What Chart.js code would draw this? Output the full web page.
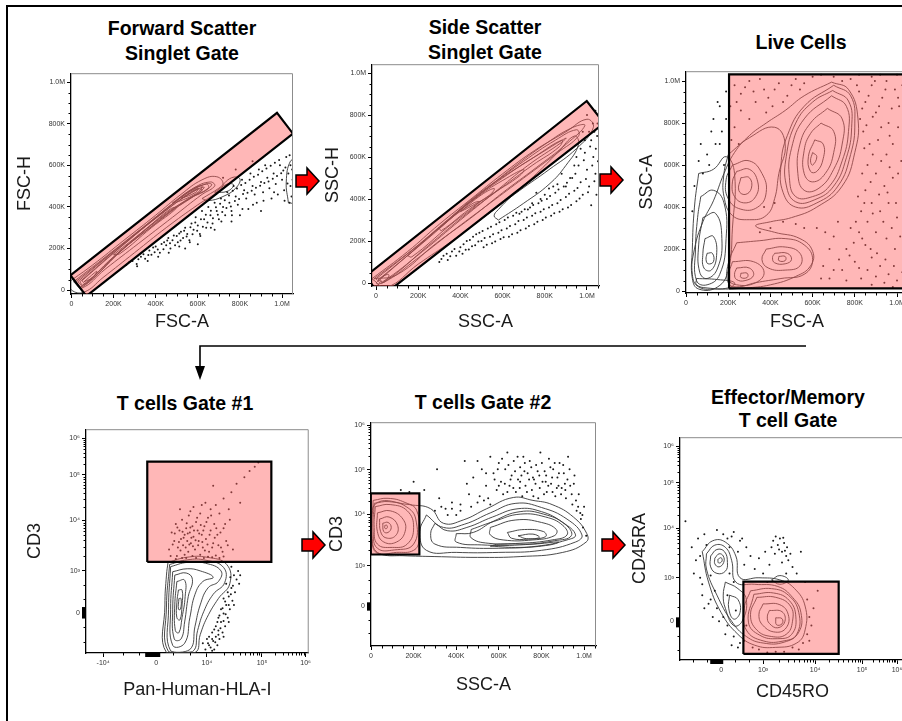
<!DOCTYPE html>
<html>
<head>
<meta charset="utf-8">
<script src="https://cdn.jsdelivr.net/npm/chart.js@4.4.1/dist/chart.umd.min.js"></script>
<style>
html, body { margin: 0; width: 902px; height: 721px; overflow: hidden; background: #fff; }
body { position: relative; font-family: Arial, "Liberation Sans", sans-serif; }
canvas { position: absolute; }
.title { position: absolute; font-weight: bold; font-size: 19.5px; line-height: 25px; text-align: center;
    transform: translateX(-50%); white-space: nowrap; color: #000; }
svg { position: absolute; left: 0; top: 0; }
</style>
</head>
<body>
<div class="title" style="left:182px;top:15.5px">Forward Scatter<br>Singlet Gate</div>
<div class="title" style="left:485px;top:14.5px">Side Scatter<br>Singlet Gate</div>
<div class="title" style="left:801px;top:29.5px">Live Cells</div>
<div class="title" style="left:185px;top:390.5px">T cells Gate #1</div>
<div class="title" style="left:483px;top:389.5px">T cells Gate #2</div>
<div class="title" style="left:788px;top:385.5px;line-height:23px">Effector/Memory<br>T cell Gate</div>

<canvas id="fsc"></canvas>
<canvas id="ssc"></canvas>
<canvas id="live"></canvas>
<canvas id="tc1"></canvas>
<canvas id="tc2"></canvas>
<canvas id="em"></canvas>

<svg width="902" height="721">
    <path d="M7 721 V6 H902" fill="none" stroke="#000" stroke-width="2" />
    <path d="M806 346 H200 V368" fill="none" stroke="#000" stroke-width="1.6" />
    <path d="M195 366 L205 366 L200 380 Z" fill="#000" />
    <g fill="#f00" stroke="#000" stroke-width="1.5">
        <path d="M296 175 h11 v-7 l12 13 l-12 13 v-7 h-11 Z" />
        <path d="M600 174 h11 v-7 l12 13 l-12 13 v-7 h-11 Z" />
        <path d="M302 539 h11 v-7 l12 13 l-12 13 v-7 h-11 Z" />
        <path d="M602 539 h11 v-7 l12 13 l-12 13 v-7 h-11 Z" />
    </g>
</svg>

<script>
// tick labels
const LIN_TICKS = [0, 200, 400, 600, 800, 1000]
const LIN_LABELS = ['0', '200K', '400K', '600K', '800K', '1.0M']
const DEC_LABELS = ['0', '10³', '10⁴', '10⁵', '10⁶']
const NEG_DEC_LABELS = ['-10⁴', '0', '10⁴', '10⁵', '10⁶']

// biexponential axes: positions of the labelled ticks (display units)
const t1XTicks = [-1.02, 0, 0.98, 2.04, 2.88]
const t1YTicks = [0, 1, 2.19, 3.26, 4.12]
const t2YTicks = [0, 0.98, 2.21, 3.29, 4.36]
const emXTicks = [0, 1, 2.24, 3.36, 4.19]
const emYTicks = [0, 1, 2.14, 3.18, 4.02]

// ---- Forward scatter singlet gate (FSC-A vs FSC-H, K) ----
const fscGate = [[-5, 71], [976, 852], [1052, 752], [71, -29], [-5, 71]]
const fscRings = [
    [[-10, 40], [100, 120], [250, 240], [400, 360], [520, 460], [620, 530], [690, 545], [720, 510], [690, 470], [600, 410], [450, 300], [300, 180], [150, 60], [60, -10], [0, 0], [-10, 40]],
    [[10, 40], [150, 150], [300, 270], [450, 390], [580, 490], [660, 520], [680, 500], [620, 460], [480, 350], [320, 225], [160, 100], [50, 10], [10, 40]],
    [[20, 40], [180, 170], [340, 300], [500, 430], [610, 500], [665, 510], [640, 480], [540, 430], [380, 305], [200, 160], [45, 15], [20, 40]],
    [[30, 40], [200, 185], [380, 330], [540, 460], [640, 510], [650, 490], [560, 440], [400, 320], [220, 175], [60, 20], [30, 40]],
    [[40, 40], [230, 205], [420, 360], [570, 470], [630, 495], [600, 465], [450, 370], [240, 195], [55, 25], [40, 40]],
    [[50, 45], [250, 220], [450, 385], [600, 485], [620, 480], [580, 450], [430, 350], [260, 210], [70, 30], [50, 45]],
    [[200, 170], [350, 290], [470, 390], [500, 395], [380, 300], [230, 175], [200, 170]],
    [[60, 40], [120, 90], [100, 60], [60, 40]],
    [[480, 420], [580, 490], [620, 500], [600, 470], [520, 430], [480, 420]],
    [[520, 440], [600, 490], [590, 470], [520, 440]],
    [[620, 440], [700, 490], [760, 540], [800, 535], [780, 490], [720, 450], [650, 430], [620, 440]],
    [[680, 470], [740, 510], [770, 505], [740, 475], [680, 470]],
    [[1030, 420], [1020, 520], [1040, 620], [1070, 620], [1070, 420], [1030, 420]],
]
const fscDots = [
    [260, 120], [290, 140], [310, 125], [330, 160], [350, 150], [370, 190], [380, 170], [400, 210], [410, 195], [420, 180],
    [440, 230], [450, 215], [460, 250], [470, 200], [480, 240], [500, 260], [505, 230], [520, 280], [530, 250], [540, 300],
    [550, 270], [560, 240], [570, 320], [580, 290], [590, 350], [600, 310], [610, 270], [620, 380], [630, 340], [640, 300],
    [650, 400], [660, 360], [670, 320], [680, 420], [690, 380], [700, 340], [710, 440], [720, 400], [730, 360], [740, 470],
    [750, 420], [760, 380], [770, 500], [780, 450], [790, 410], [800, 360], [810, 530], [820, 480], [830, 440], [840, 390],
    [850, 560], [860, 500], [870, 460], [880, 420], [890, 580], [900, 520], [910, 470], [920, 600], [930, 540], [940, 490],
    [950, 440], [960, 560], [970, 510], [980, 460], [990, 600], [1000, 530], [1010, 480], [1020, 640], [1030, 560], [1040, 500],
    [1045, 450], [1040, 600], [1050, 530], [1035, 420], [860, 620], [780, 580], [720, 540], [900, 380], [760, 330], [680, 290],
    [600, 220], [540, 200], [275, 135], [318, 148], [342, 172], [365, 168], [388, 205], [395, 182], [428, 222], [437, 196],
    [455, 238], [468, 225], [486, 262], [492, 215], [512, 272], [518, 238], [535, 285], [547, 258], [565, 302], [575, 268],
    [588, 325], [597, 285], [615, 340], [624, 305], [638, 362], [646, 325], [662, 382], [672, 345], [686, 398], [695, 362],
    [706, 415], [716, 375], [728, 432], [736, 395], [748, 455], [757, 402], [766, 478], [776, 428], [786, 488], [796, 438],
    [806, 505], [815, 462], [826, 515], [836, 468], [846, 530], [856, 478], [866, 545], [876, 492], [886, 555], [896, 502],
    [906, 572], [916, 515], [926, 585], [936, 522], [946, 598], [956, 535], [966, 612], [976, 548], [986, 625], [996, 562],
    [1006, 575], [1016, 590], [1026, 512], [1036, 648], [1048, 580], [1012, 430], [962, 470], [912, 430], [862, 410], [812, 390],
    [762, 360], [712, 330], [662, 300], [612, 260], [562, 230], [512, 210], [462, 180], [412, 160], [362, 140], [312, 115],
]

// ---- Side scatter singlet gate (SSC-A vs SSC-H, K) ----
const sscGate = [[-49, 33], [999, 867], [1081, 761], [24, -66], [-49, 33]]
const sscRings = [
    [[-20, 20], [150, 150], [300, 280], [450, 400], [600, 520], [750, 630], [900, 720], [1000, 780], [1030, 740], [950, 640], [820, 540], [680, 440], [520, 320], [360, 200], [200, 90], [50, -20], [-20, 20]],
    [[-10, 20], [180, 165], [350, 310], [500, 430], [650, 550], [800, 660], [930, 740], [990, 750], [900, 660], [760, 550], [600, 430], [450, 310], [280, 185], [100, 40], [-10, 20]],
    [[0, 20], [200, 180], [400, 350], [550, 470], [700, 580], [850, 680], [950, 730], [960, 700], [860, 620], [700, 500], [540, 380], [380, 260], [200, 120], [30, 0], [0, 20]],
    [[10, 15], [250, 215], [450, 390], [600, 500], [750, 600], [880, 680], [870, 650], [740, 560], [590, 450], [430, 330], [250, 180], [40, 5], [10, 15]],
    [[20, 18], [280, 245], [480, 420], [640, 530], [800, 630], [900, 690], [880, 670], [720, 560], [560, 430], [400, 300], [220, 150], [30, 5], [20, 18]],
    [[300, 260], [480, 410], [620, 500], [700, 540], [680, 510], [560, 430], [440, 350], [310, 250], [300, 260]],
    [[150, 130], [320, 280], [460, 380], [490, 385], [350, 275], [170, 125], [150, 130]],
    [[400, 340], [500, 420], [560, 450], [540, 420], [440, 360], [400, 340]],
    [[0, 0], [30, 30], [60, 40], [50, 15], [10, -5], [0, 0]],
    [[580, 300], [700, 380], [820, 470], [900, 560], [960, 660], [940, 700], [860, 620], [760, 520], [660, 430], [580, 350], [560, 320], [580, 300]],
]
const sscDots = [
    [300, 100], [320, 130], [340, 110], [360, 150], [380, 130], [400, 170], [410, 140], [430, 200], [440, 160], [460, 220],
    [470, 180], [490, 240], [500, 200], [510, 170], [530, 260], [540, 220], [550, 190], [570, 280], [580, 240], [590, 210],
    [610, 300], [620, 260], [630, 220], [650, 320], [660, 280], [670, 240], [690, 340], [700, 300], [710, 260], [730, 360],
    [740, 320], [750, 280], [770, 380], [780, 340], [790, 300], [810, 400], [820, 360], [830, 320], [850, 430], [860, 380],
    [870, 340], [890, 460], [900, 410], [910, 360], [930, 500], [940, 440], [950, 390], [960, 560], [970, 480], [980, 420],
    [990, 620], [1000, 540], [1010, 460], [1020, 680], [1030, 600], [1040, 520], [1045, 420], [1050, 760], [1035, 720], [1020, 370],
    [880, 520], [820, 450], [760, 430], [980, 720], [1000, 800], [1040, 820], [950, 600], [310, 115], [335, 140], [352, 128],
    [372, 162], [395, 150], [415, 185], [425, 158], [445, 205], [455, 175], [475, 232], [485, 198], [505, 248], [515, 215],
    [525, 182], [545, 268], [555, 232], [565, 198], [585, 290], [595, 252], [605, 218], [625, 312], [635, 272], [645, 232],
    [665, 335], [675, 295], [685, 252], [705, 352], [715, 312], [725, 272], [745, 372], [755, 332], [765, 292], [785, 392],
    [795, 352], [805, 312], [825, 415], [835, 372], [845, 332], [865, 445], [875, 395], [885, 352], [905, 478], [915, 425],
    [925, 372], [945, 520], [955, 452], [965, 402], [985, 585], [995, 495], [1005, 432], [1015, 650], [1025, 560], [1035, 485],
    [1048, 700], [1042, 640], [1052, 580], [1028, 760], [1010, 720], [990, 680], [970, 640], [940, 560], [920, 500], [900, 460],
    [860, 470], [840, 460], [800, 420], [780, 400], [740, 380], [720, 350], [680, 330],
]

// ---- Live cells (FSC-A vs SSC-A, K) ----
const liveGate = [[204, 13], [204, 1032], [1150, 1032], [1150, 13], [204, 13]]
const liveRings = [
    [[690, 995], [770, 960], [815, 820], [800, 660], [740, 500], [620, 400], [500, 350], [400, 330], [330, 310], [420, 280], [540, 250], [600, 190], [590, 120], [520, 70], [400, 30], [280, 15], [150, 10], [60, 20], [30, 80], [40, 200], [80, 330], [130, 430], [180, 560], [230, 660], [300, 740], [380, 800], [470, 860], [560, 930], [690, 995]],
    [[700, 980], [780, 930], [800, 800], [780, 650], [720, 500], [620, 420], [520, 400], [460, 470], [450, 600], [480, 740], [560, 880], [700, 980]],
    [[695, 955], [770, 905], [785, 780], [760, 635], [700, 500], [610, 435], [520, 425], [475, 505], [475, 640], [520, 800], [600, 900], [695, 955]],
    [[690, 930], [760, 880], [770, 760], [740, 620], [680, 500], [600, 450], [520, 450], [490, 540], [500, 680], [560, 820], [690, 930]],
    [[670, 870], [740, 820], [740, 700], [700, 580], [630, 490], [560, 480], [530, 560], [540, 700], [590, 800], [670, 870]],
    [[640, 800], [700, 760], [700, 660], [660, 560], [600, 520], [560, 560], [560, 670], [590, 750], [640, 800]],
    [[610, 720], [650, 700], [650, 630], [620, 570], [590, 570], [580, 640], [610, 720]],
    [[600, 660], [620, 640], [600, 600], [590, 620], [600, 660]],
    [[220, 600], [300, 620], [360, 560], [380, 470], [340, 400], [260, 390], [200, 440], [190, 530], [220, 600]],
    [[240, 570], [300, 580], [340, 520], [330, 450], [280, 420], [230, 450], [220, 520], [240, 570]],
    [[260, 540], [300, 540], [310, 490], [280, 460], [250, 480], [260, 540]],
    [[200, 650], [300, 730], [420, 780], [470, 700], [440, 560], [420, 440], [380, 360], [300, 340], [220, 360], [180, 450], [180, 560], [200, 650]],
    [[240, 230], [350, 240], [470, 250], [560, 220], [600, 150], [560, 80], [450, 60], [330, 40], [240, 20], [200, 40], [200, 130], [240, 230]],
    [[380, 200], [470, 210], [540, 180], [540, 120], [470, 100], [390, 110], [360, 150], [380, 200]],
    [[420, 180], [480, 180], [500, 150], [470, 130], [420, 135], [410, 160], [420, 180]],
    [[440, 165], [470, 165], [470, 145], [440, 145], [440, 165]],
    [[220, 140], [320, 140], [370, 90], [330, 40], [240, 30], [200, 60], [220, 140]],
    [[240, 110], [300, 110], [320, 75], [280, 50], [240, 55], [230, 80], [240, 110]],
    [[260, 85], [290, 85], [290, 65], [260, 65], [260, 85]],
    [[60, 560], [130, 580], [190, 640], [230, 560], [220, 300], [200, 100], [150, 20], [60, 10], [30, 60], [30, 200], [40, 400], [60, 560]],
    [[70, 450], [130, 480], [180, 420], [190, 250], [160, 80], [100, 30], [50, 50], [45, 200], [55, 350], [70, 450]],
    [[80, 350], [140, 370], [170, 250], [150, 110], [100, 60], [65, 90], [60, 220], [80, 350]],
    [[90, 250], [130, 260], [145, 170], [120, 100], [85, 110], [80, 180], [90, 250]],
    [[50, 60], [150, 55], [230, 40], [200, 15], [100, 15], [50, 30], [50, 60]],
    [[100, 180], [125, 180], [130, 140], [105, 130], [95, 150], [100, 180]],
]
const liveDots = [
    [820, 950], [850, 900], [880, 980], [900, 850], [930, 920], [960, 800], [990, 960], [1010, 880], [1030, 780], [840, 760],
    [870, 700], [910, 720], [950, 650], [980, 700], [1020, 620], [860, 600], [900, 560], [940, 500], [980, 540], [1030, 470],
    [850, 480], [880, 420], [920, 380], [960, 420], [1000, 350], [1040, 300], [830, 380], [860, 330], [900, 280], [950, 250],
    [990, 200], [1030, 150], [820, 280], [850, 220], [880, 160], [920, 120], [960, 80], [1000, 50], [780, 300], [720, 330],
    [700, 260], [680, 200], [650, 120], [640, 60], [760, 200], [800, 140], [740, 100], [830, 60], [880, 30],
    [230, 980], [260, 940], [300, 1000], [330, 900], [370, 960], [410, 880], [440, 990], [480, 930], [520, 1010], [540, 960],
    [600, 1020], [260, 860], [230, 780], [300, 820], [380, 850], [780, 1010], [880, 1020], [950, 1000], [1040, 1010],
    [100, 650], [140, 700], [170, 760], [190, 820], [60, 620], [120, 760], [160, 700], [180, 600], [40, 500], [30, 380],
    [150, 900], [190, 950], [370, 400], [420, 420], [460, 330], [520, 320], [560, 300], [620, 300], [350, 280], [400, 300], [660, 280],
    [810, 980], [835, 870], [865, 930], [895, 1000], [915, 880], [945, 960], [975, 870], [1005, 920], [1025, 980], [1045, 860],
    [825, 820], [855, 790], [885, 830], [925, 780], [965, 740], [1005, 780], [1045, 720], [845, 680], [885, 650], [925, 620],
    [965, 590], [1005, 560], [1045, 540], [835, 560], [875, 520], [915, 460], [955, 470], [995, 420], [1035, 400], [815, 450],
    [845, 420], [885, 370], [935, 330], [975, 300], [1015, 260], [1045, 220], [805, 330], [835, 250], [875, 200], [905, 180],
    [945, 150], [985, 120], [1025, 90], [1045, 40], [795, 230], [775, 170], [725, 150], [700, 100], [680, 60], [760, 50],
    [820, 110], [860, 100], [900, 70], [940, 40], [980, 20], [240, 900], [280, 970], [320, 950], [350, 1010], [390, 920],
    [420, 960], [460, 900], [500, 980], [560, 990], [640, 1030], [700, 1020], [740, 1000], [820, 1030], [920, 1030], [1000, 1030],
    [210, 880], [215, 720], [250, 700], [70, 700], [110, 600], [130, 820], [160, 880], [80, 560],
]

// ---- T cells gate #1 (Pan-Human-HLA-I vs CD3, biex units) ----
const t1Gate = [[-0.17, 1.21], [-0.17, 3.57], [2.22, 3.57], [2.22, 1.21], [-0.17, 1.21]]
const t1Rings = [
    [[0.23, 1.2], [0.59, 1.32], [0.98, 1.32], [1.36, 1.15], [1.42, 0.7], [1.2, 0.35], [0.98, -0.1], [0.85, -0.5], [0.75, -0.92], [0.2, -0.92], [0.17, 0.2], [0.2, 0.9], [0.23, 1.2]],
    [[0.26, 1.15], [0.6, 1.26], [0.96, 1.25], [1.3, 1.08], [1.32, 0.72], [1.1, 0.45], [0.92, 0.05], [0.8, -0.4], [0.7, -0.9], [0.24, -0.9], [0.2, 0.15], [0.26, 1.15]],
    [[0.28, 1.1], [0.6, 1.2], [0.95, 1.18], [1.25, 1.0], [1.2, 0.75], [1.0, 0.6], [0.85, 0.2], [0.75, -0.3], [0.65, -0.85], [0.28, -0.88], [0.24, 0.1], [0.28, 1.1]],
    [[0.32, 0.98], [0.6, 1.05], [0.85, 1.0], [1.1, 0.85], [0.9, 0.75], [0.75, 0.45], [0.65, -0.1], [0.55, -0.7], [0.32, -0.75], [0.28, 0.1], [0.32, 0.98]],
    [[0.36, 0.9], [0.58, 0.95], [0.7, 0.8], [0.62, 0.4], [0.55, -0.2], [0.48, -0.6], [0.35, -0.6], [0.32, 0.1], [0.36, 0.9]],
    [[0.4, 0.75], [0.55, 0.78], [0.56, 0.4], [0.5, -0.1], [0.44, -0.45], [0.37, -0.4], [0.36, 0.2], [0.4, 0.75]],
    [[0.43, 0.55], [0.5, 0.55], [0.5, 0.2], [0.46, -0.15], [0.4, -0.1], [0.4, 0.25], [0.43, 0.55]],
    [[0.44, 0.35], [0.48, 0.35], [0.47, 0.1], [0.43, 0.1], [0.44, 0.35]],
]
const t1Dots = [
    [0.25, 1.5], [0.3, 1.9], [0.35, 1.7], [0.38, 2.1], [0.42, 1.55], [0.45, 1.95], [0.48, 1.75], [0.5, 2.2], [0.52, 1.6], [0.55, 1.85],
    [0.58, 2.0], [0.6, 1.7], [0.62, 1.45], [0.63, 2.3], [0.65, 1.9], [0.67, 1.65], [0.7, 2.05], [0.72, 1.8], [0.75, 1.5], [0.77, 2.15],
    [0.8, 1.95], [0.82, 1.7], [0.85, 2.35], [0.88, 1.85], [0.9, 1.55], [0.93, 2.05], [0.96, 1.75], [1.0, 2.25], [1.02, 1.45], [1.05, 1.95],
    [1.1, 1.65], [1.12, 2.1], [1.18, 1.85], [1.22, 2.35], [1.25, 1.55], [1.3, 2.0], [1.35, 1.7], [1.42, 2.2], [1.48, 1.5], [0.28, 1.35],
    [0.4, 1.35], [0.55, 1.38], [0.7, 1.35], [0.85, 1.38], [1.0, 1.33], [1.15, 1.36], [1.3, 1.34], [0.46, 2.45], [0.72, 2.5], [0.95, 2.6],
    [1.15, 2.55], [1.3, 2.7], [1.45, 2.85], [1.55, 3.05], [1.62, 2.6], [1.7, 3.2], [1.8, 3.35], [1.9, 3.45], [1.97, 3.55], [1.1, 3.0],
    [1.4, 2.45], [1.45, 1.1], [1.5, 0.9], [1.55, 0.8], [1.45, 0.6], [1.52, 0.5], [1.4, 0.4], [1.47, 0.3], [1.35, 0.2], [1.42, 0.1],
    [1.3, 0.0], [1.38, -0.1], [1.25, -0.2], [1.33, -0.3], [1.2, -0.4], [1.28, -0.45], [1.15, -0.55], [1.22, -0.6], [1.1, -0.65], [1.18, -0.75],
    [1.05, -0.8], [1.12, -0.85], [1.0, -0.7], [0.95, -0.85], [1.6, 0.7], [1.58, 1.0], [1.3, 0.35], [1.25, 0.1], [1.2, -0.1], [1.15, -0.3],
    [1.08, -0.45], [1.02, -0.55], [0.9, -0.7], [1.62, 0.9], [1.35, 0.7], [1.5, 0.2], [1.4, -0.2], [1.3, -0.55],
    [0.32, 1.62], [0.36, 1.88], [0.41, 2.02], [0.44, 1.68], [0.47, 1.48], [0.51, 1.92], [0.53, 1.78], [0.57, 1.55], [0.59, 2.12], [0.61, 1.88],
    [0.64, 1.62], [0.66, 2.02], [0.68, 1.78], [0.71, 1.58], [0.73, 1.95], [0.76, 1.72], [0.79, 2.25], [0.81, 1.6], [0.83, 1.88], [0.86, 2.08],
    [0.89, 1.68], [0.91, 1.95], [0.94, 1.48], [0.97, 2.15], [0.99, 1.62], [1.03, 1.85], [1.06, 2.3], [1.08, 1.55], [1.13, 1.78], [1.16, 2.0],
    [1.2, 1.6], [1.24, 1.9], [1.28, 1.45], [1.33, 2.1], [1.38, 1.6], [0.58, 1.3], [0.77, 1.3], [0.92, 1.3], [1.08, 1.32], [1.22, 1.3],
    [0.38, 1.28], [0.5, 1.3], [0.66, 2.4], [0.88, 2.55], [1.05, 2.45], [1.43, 0.85], [1.48, 0.65], [1.38, 0.5], [1.44, 0.45], [1.33, 0.28],
    [1.4, 0.2], [1.28, 0.12], [1.34, -0.02], [1.22, -0.05], [1.3, -0.18], [1.18, -0.2], [1.24, -0.35], [1.12, -0.38], [1.2, -0.5], [1.08, -0.6],
    [1.14, -0.68], [1.02, -0.75], [1.08, -0.88], [0.98, -0.6],
]

// ---- T cells gate #2 (SSC-A K vs CD3 biex units) ----
const t2Gate = [[-1, 1.25], [-1, 2.72], [227, 2.72], [227, 1.25], [-1, 1.25]]
const t2Rings = [
    [[10, 2.55], [80, 2.6], [160, 2.5], [215, 2.3], [225, 1.6], [200, 1.35], [120, 1.3], [30, 1.3], [5, 1.7], [10, 2.55]],
    [[15, 2.48], [85, 2.52], [165, 2.4], [210, 2.1], [200, 1.5], [110, 1.36], [30, 1.4], [10, 1.8], [15, 2.48]],
    [[20, 2.4], [90, 2.45], [170, 2.3], [200, 1.9], [170, 1.5], [100, 1.42], [30, 1.5], [15, 1.9], [20, 2.4]],
    [[30, 2.25], [90, 2.3], [150, 2.1], [160, 1.8], [120, 1.55], [60, 1.55], [30, 1.8], [30, 2.25]],
    [[40, 2.1], [85, 2.15], [125, 1.95], [115, 1.7], [70, 1.65], [45, 1.8], [40, 2.1]],
    [[55, 2.0], [80, 2.02], [95, 1.9], [80, 1.78], [60, 1.8], [55, 2.0]],
    [[65, 1.95], [75, 1.95], [75, 1.88], [65, 1.88], [65, 1.95]],
    [[180, 2.45], [280, 2.35], [340, 2.0], [433, 2.08], [543, 2.35], [668, 2.62], [760, 2.55], [850, 2.45], [950, 2.15], [1013, 1.75], [1010, 1.55], [900, 1.3], [700, 1.2], [500, 1.18], [300, 1.2], [150, 1.22], [50, 1.25], [10, 1.4], [0, 2.0], [30, 2.5], [180, 2.45]],
    [[260, 2.2], [340, 1.9], [440, 1.98], [560, 2.25], [680, 2.48], [800, 2.38], [920, 2.1], [990, 1.72], [960, 1.55], [800, 1.35], [600, 1.3], [400, 1.3], [260, 1.35], [230, 1.8], [260, 2.2]],
    [[300, 2.0], [360, 1.82], [450, 1.9], [570, 2.15], [690, 2.35], [800, 2.28], [900, 2.02], [960, 1.72], [920, 1.6], [780, 1.45], [600, 1.4], [420, 1.42], [300, 1.5], [280, 1.75], [300, 2.0]],
    [[400, 1.75], [480, 1.78], [575, 2.05], [700, 2.28], [810, 2.22], [910, 1.98], [940, 1.7], [860, 1.58], [700, 1.48], [520, 1.48], [400, 1.55], [400, 1.75]],
    [[470, 1.85], [580, 2.05], [700, 2.22], [820, 2.15], [900, 1.95], [920, 1.72], [850, 1.6], [700, 1.52], [550, 1.52], [470, 1.65], [470, 1.85]],
    [[560, 1.9], [680, 2.08], [800, 2.02], [870, 1.85], [860, 1.7], [760, 1.6], [620, 1.6], [560, 1.72], [560, 1.9]],
    [[640, 1.78], [720, 1.85], [810, 1.8], [820, 1.68], [740, 1.62], [660, 1.64], [640, 1.78]],
    [[690, 1.7], [760, 1.74], [790, 1.66], [730, 1.63], [690, 1.7]],
    [[560, 1.45], [700, 1.42], [840, 1.48], [880, 1.55], [760, 1.5], [600, 1.5], [560, 1.45]],
]
const t2Dots = [
    [140, 2.8], [200, 3.0], [300, 2.3], [310, 3.3], [330, 2.4], [360, 2.2], [380, 2.5], [400, 2.2], [420, 2.45], [440, 3.5],
    [460, 2.7], [480, 3.1], [500, 2.5], [520, 3.3], [540, 2.9], [550, 2.6], [560, 3.6], [575, 3.2], [590, 2.8], [600, 3.45],
    [610, 3.0], [620, 2.7], [630, 3.3], [640, 3.7], [650, 2.9], [660, 3.15], [670, 3.5], [680, 2.75], [690, 3.05], [700, 3.35],
    [710, 2.65], [715, 3.6], [725, 2.9], [735, 3.2], [745, 3.5], [755, 2.8], [765, 3.05], [775, 3.4], [785, 2.6], [795, 3.7],
    [805, 3.0], [815, 3.25], [825, 2.75], [835, 3.55], [845, 2.95], [855, 3.3], [865, 2.65], [875, 3.1], [885, 3.45], [895, 2.85],
    [905, 3.2], [915, 2.6], [925, 3.6], [935, 2.9], [945, 2.45], [955, 3.15], [965, 2.3], [975, 2.7], [985, 2.1], [995, 1.9],
    [1000, 2.4], [1010, 1.7], [600, 2.9], [700, 3.0], [760, 3.1], [820, 3.0], [880, 2.9], [640, 2.75], [720, 3.25], [790, 3.15],
    [850, 3.1], [910, 2.95], [350, 2.35], [420, 2.3], [530, 2.55], [180, 2.75], [250, 2.8],
    [580, 3.05], [595, 3.3], [615, 3.55], [628, 2.95], [645, 3.4], [655, 3.05], [668, 2.85], [676, 3.25], [688, 3.6], [698, 2.85],
    [706, 3.15], [722, 3.45], [732, 2.75], [742, 3.05], [752, 3.35], [762, 2.65], [772, 2.95], [782, 3.25], [792, 2.85], [802, 3.45],
    [812, 2.7], [822, 3.15], [832, 2.9], [842, 3.35], [852, 2.75], [862, 3.45], [872, 2.85], [882, 3.2], [892, 2.7], [902, 3.4],
    [912, 2.8], [922, 3.05], [932, 3.3], [942, 2.7], [952, 2.95], [962, 2.55], [972, 2.4], [982, 2.25], [992, 2.2], [470, 2.4],
    [510, 2.65], [560, 2.45], [380, 2.35], [320, 2.6], [450, 2.95], [500, 3.5], [540, 3.2],
]

// ---- Effector/Memory T cell gate (CD45RO vs CD45RA, biex units) ----
const emGate = [[0.53, -0.75], [0.53, 0.91], [2.8, 0.91], [2.8, -0.75], [0.53, -0.75]]
const emRings = [
    [[-0.45, 1.6], [-0.2, 1.85], [0.1, 1.82], [0.35, 1.5], [0.45, 1.0], [0.9, 1.0], [1.4, 0.95], [1.75, 0.75], [2.0, 0.35], [2.0, -0.2], [1.8, -0.5], [1.3, -0.6], [0.8, -0.55], [0.4, -0.3], [0.0, 0.2], [-0.3, 0.9], [-0.45, 1.6]],
    [[-0.35, 1.55], [-0.15, 1.75], [0.1, 1.7], [0.25, 1.4], [0.35, 0.9], [0.8, 0.85], [1.35, 0.8], [1.7, 0.55], [1.9, 0.2], [1.85, -0.25], [1.5, -0.48], [1.0, -0.5], [0.6, -0.35], [0.25, 0.0], [-0.1, 0.6], [-0.35, 1.2], [-0.35, 1.55]],
    [[-0.25, 1.5], [-0.1, 1.65], [0.08, 1.6], [0.15, 1.35], [0.1, 1.15], [-0.1, 1.1], [-0.25, 1.25], [-0.25, 1.5]],
    [[-0.15, 1.45], [-0.05, 1.55], [0.05, 1.5], [0.06, 1.35], [-0.05, 1.25], [-0.15, 1.32], [-0.15, 1.45]],
    [[-0.08, 1.42], [0.0, 1.46], [0.02, 1.38], [-0.06, 1.34], [-0.08, 1.42]],
    [[0.1, 0.9], [0.4, 0.75], [0.6, 0.5], [0.5, 0.0], [0.3, -0.1], [0.1, 0.3], [0.05, 0.6], [0.1, 0.9]],
    [[0.2, 0.6], [0.4, 0.5], [0.45, 0.2], [0.3, 0.05], [0.18, 0.3], [0.2, 0.6]],
    [[0.7, 0.7], [1.2, 0.75], [1.6, 0.6], [1.85, 0.2], [1.8, -0.3], [1.5, -0.45], [1.0, -0.45], [0.6, -0.2], [0.55, 0.3], [0.7, 0.7]],
    [[0.78, 0.62], [1.25, 0.65], [1.62, 0.48], [1.78, 0.1], [1.68, -0.3], [1.35, -0.4], [0.92, -0.32], [0.65, -0.02], [0.78, 0.62]],
    [[0.85, 0.55], [1.3, 0.55], [1.65, 0.35], [1.7, 0.0], [1.55, -0.3], [1.2, -0.35], [0.85, -0.2], [0.7, 0.15], [0.85, 0.55]],
    [[1.0, 0.4], [1.4, 0.38], [1.6, 0.15], [1.55, -0.15], [1.3, -0.25], [1.0, -0.1], [0.9, 0.15], [1.0, 0.4]],
    [[1.15, 0.25], [1.45, 0.22], [1.52, 0.0], [1.35, -0.15], [1.15, -0.05], [1.1, 0.1], [1.15, 0.25]],
    [[1.3, 0.08], [1.45, 0.06], [1.45, -0.06], [1.32, -0.08], [1.3, 0.08]],
    [[1.2, 0.95], [1.4, 1.05], [1.6, 0.95], [1.4, 0.85], [1.2, 0.95]],
]
const emDots = [
    [-0.85, 2.3], [-0.6, 1.4], [-0.55, 1.9], [-0.5, 1.0], [-0.45, 0.6], [-0.4, 2.0], [-0.3, 0.4], [-0.35, 1.75], [-0.2, 0.1], [-0.1, 2.1],
    [0.05, 2.0], [0.15, 1.9], [0.2, 1.7], [0.3, 2.05], [0.4, 1.6], [0.45, 1.85], [0.55, 1.3], [0.6, 1.7], [0.7, 1.5], [0.8, 1.2],
    [0.9, 1.45], [1.0, 1.1], [1.05, 1.6], [1.15, 1.3], [1.24, 1.85], [1.3, 1.95], [1.35, 1.75], [1.4, 1.9], [1.45, 1.6], [1.5, 1.8],
    [1.55, 1.5], [1.57, 1.7], [1.6, 1.4], [1.7, 1.25], [1.8, 1.1], [1.9, 1.6], [2.0, 0.9], [2.05, 0.5], [2.1, 0.1], [2.05, -0.3],
    [1.95, -0.5], [2.2, 0.3], [2.3, 0.7], [1.7, -0.6], [1.3, -0.7], [0.9, -0.65], [0.55, -0.45], [0.4, -0.6], [0.3, -0.35], [0.15, -0.1],
    [0.05, 0.1], [-0.1, 0.3], [-0.15, 0.7], [-0.25, 1.05], [0.15, 0.6], [0.35, 0.25], [0.6, -0.1], [0.2, 1.1], [0.3, 0.9], [1.1, 0.9],
    [1.55, 1.1], [1.45, 1.35], [-0.7, 1.7], [-0.65, 1.1], [-0.5, 1.5], [-0.45, 0.85], [-0.4, 0.3], [-0.25, 0.5], [0.25, 1.95], [0.5, 1.9],
    [1.2, 1.7], [1.28, 1.55], [1.38, 1.65], [1.48, 1.92], [1.52, 1.62], [1.65, 1.55], [2.15, -0.1], [2.1, -0.45], [1.85, -0.65], [1.5, -0.7],
    [1.1, -0.72], [0.75, -0.6], [0.45, -0.5], [0.25, -0.55], [0.1, -0.3], [-0.05, 0.0],
]

// minor tick helpers (decoration only)
function linMinor(max) {
    const out = []
    for (let v = 50; v <= max; v += 50) if (v % 200 !== 0) out.push(v)
    return out
}
function decMinor(pos, first) {
    const out = []
    for (let i = first; i < pos.length - 1; i++)
        for (let m = 2; m <= 9; m++) out.push(pos[i] + (pos[i + 1] - pos[i]) * Math.log10(m))
    const z = pos[first - 1] !== undefined ? pos[first - 1] : 0
    const d = pos[first] - z
    out.push(z + d * 0.33, z + d * 0.66, z - d * 0.33, z - d * 0.66)
    return out
}

const framePlugin = {
    id: 'frame',
    afterDatasetsDraw(chart, args, opts) {
        const { ctx, chartArea: a, scales: { x, y } } = chart
        ctx.save()
        ctx.strokeStyle = '#8c8c8c'
        ctx.lineWidth = 1
        ctx.beginPath()
        ctx.moveTo(a.left, a.top + 0.5)
        ctx.lineTo(a.right - 0.5, a.top + 0.5)
        ctx.lineTo(a.right - 0.5, a.bottom)
        ctx.stroke()
        ctx.strokeStyle = '#000'
        ctx.beginPath()
        for (const v of opts.xMinor) {
            const px = Math.round(x.getPixelForValue(v)) + 0.5
            if (px < a.left || px > a.right) continue
            ctx.moveTo(px, a.bottom)
            ctx.lineTo(px, a.bottom + 2.5)
        }
        for (const v of opts.yMinor) {
            const py = Math.round(y.getPixelForValue(v)) + 0.5
            if (py < a.top || py > a.bottom) continue
            ctx.moveTo(a.left, py)
            ctx.lineTo(a.left - 2.5, py)
        }
        ctx.stroke()
        ctx.fillStyle = '#000'
        if (opts.xZero) {
            const p1 = x.getPixelForValue(opts.xZero[0])
            const p2 = x.getPixelForValue(opts.xZero[1])
            ctx.fillRect(p1, a.bottom, p2 - p1, 4)
        }
        if (opts.yZero) {
            const p1 = y.getPixelForValue(opts.yZero[1])
            const p2 = y.getPixelForValue(opts.yZero[0])
            ctx.fillRect(a.left - 4, p1, 4, p2 - p1)
        }
        ctx.restore()
    },
}

function axis(spec, position, size, title, titlePad) {
    return {
        type: 'linear',
        position,
        min: spec.min,
        max: spec.max,
        afterBuildTicks: (s) => { s.ticks = spec.ticks.map((v) => ({ value: v })) },
        afterFit: (s) => { if (position === 'left') s.width = size; else s.height = size },
        ticks: {
            autoSkip: false, maxRotation: 0, padding: 2, color: '#333',
            font: { size: 7, family: 'Arial, "Liberation Sans", sans-serif' },
            callback: (v, i) => spec.labels[i],
        },
        grid: { drawOnChartArea: false, drawTicks: true, tickLength: 4, tickColor: '#000', tickWidth: 1 },
        border: { display: true, color: '#000', width: 1.3 },
        title: {
            display: true, text: title, color: '#1a1a1a',
            font: { size: 18, family: 'Arial, "Liberation Sans", sans-serif', lineHeight: 1.2 },
            padding: { top: titlePad, bottom: titlePad },
        },
    }
}

function makePanel(id, box, xSpec, ySpec, xTitle, yTitle, gate, rings, dots, zero) {
    const cx = box.yt - 14
    const cy = box.T - 4
    const cw = box.R + 4 - cx
    const ch = box.xt + 14 - cy
    const canvas = document.getElementById(id)
    canvas.width = cw
    canvas.height = ch
    canvas.style.left = cx + 'px'
    canvas.style.top = cy + 'px'
    const pt = (p) => ({ x: p[0], y: p[1] })
    const datasets = [{
        data: gate.map(pt), showLine: true, tension: 0, fill: 'shape',
        backgroundColor: 'rgba(255,95,95,0.45)', borderColor: '#000', borderWidth: 2.2,
        pointRadius: 0, order: 0,
    }, {
        data: dots.map(pt), showLine: false, pointRadius: 1, pointBorderWidth: 0,
        pointBackgroundColor: '#1a1a1a', order: 1,
    }]
    for (const r of rings) {
        datasets.push({
            data: r.map(pt), showLine: true, tension: 0.45, fill: false,
            borderColor: 'rgba(55,55,55,0.9)', borderWidth: 1, pointRadius: 0, order: 2,
        })
    }
    new Chart(canvas, {
        type: 'scatter',
        data: { datasets },
        options: {
            responsive: false, animation: false, devicePixelRatio: 1,
            layout: { padding: { top: 4, right: 4, left: 0, bottom: 0 } },
            plugins: {
                legend: { display: false }, tooltip: { enabled: false },
                frame: { xMinor: xSpec.minor, yMinor: ySpec.minor, xZero: zero.x, yZero: zero.y },
            },
            scales: {
                x: axis(xSpec, 'bottom', box.xt + 14 - box.B, xTitle, 3.2),
                y: axis(ySpec, 'left', box.L - cx, yTitle, 3.2),
            },
        },
        plugins: [framePlugin],
    })
}

const lin = (min, max) => ({ min, max, ticks: LIN_TICKS, labels: LIN_LABELS, minor: linMinor(max) })

makePanel('fsc', { L: 71, T: 71, R: 293, B: 294, yt: 25, xt: 322 },
    lin(-2, 1052), lin(-19, 1043), 'FSC-A', 'FSC-H', fscGate, fscRings, fscDots, {})
makePanel('ssc', { L: 372, T: 62, R: 599, B: 286, yt: 333, xt: 322 },
    lin(-19, 1057), lin(-14, 1042), 'SSC-A', 'SSC-H', sscGate, sscRings, sscDots, {})
makePanel('live', { L: 686, T: 69, R: 908, B: 293, yt: 647, xt: 322 },
    lin(0, 1052), lin(-9, 1047), 'FSC-A', 'SSC-A', liveGate, liveRings, liveDots, {})
makePanel('tc1', { L: 86, T: 427, R: 309, B: 653, yt: 35, xt: 690 },
    { min: -1.35, max: 2.94, ticks: t1XTicks, labels: NEG_DEC_LABELS, minor: decMinor(t1XTicks, 2) },
    { min: -0.93, max: 4.33, ticks: t1YTicks, labels: DEC_LABELS, minor: decMinor(t1YTicks, 1) },
    'Pan-Human-HLA-I', 'CD3', t1Gate, t1Rings, t1Dots, { x: [-0.21, 0.08], y: [-0.12, 0.15] })
makePanel('tc2', { L: 371, T: 420, R: 596, B: 646, yt: 337, xt: 685 },
    lin(0, 1056),
    { min: -0.95, max: 4.43, ticks: t2YTicks, labels: DEC_LABELS, minor: decMinor(t2YTicks, 1) },
    'SSC-A', 'CD3', t2Gate, t2Rings, t2Dots, { y: [-0.1, 0.1] })
makePanel('em', { L: 680, T: 435, R: 905, B: 660, yt: 640, xt: 692 },
    { min: -0.98, max: 4.38, ticks: emXTicks, labels: DEC_LABELS, minor: decMinor(emXTicks, 1) },
    { min: -0.89, max: 4.23, ticks: emYTicks, labels: DEC_LABELS, minor: decMinor(emYTicks, 1) },
    'CD45RO', 'CD45RA', emGate, emRings, emDots, { x: [-0.26, 0.05], y: [-0.14, 0.09] })
</script>
</body>
</html>
